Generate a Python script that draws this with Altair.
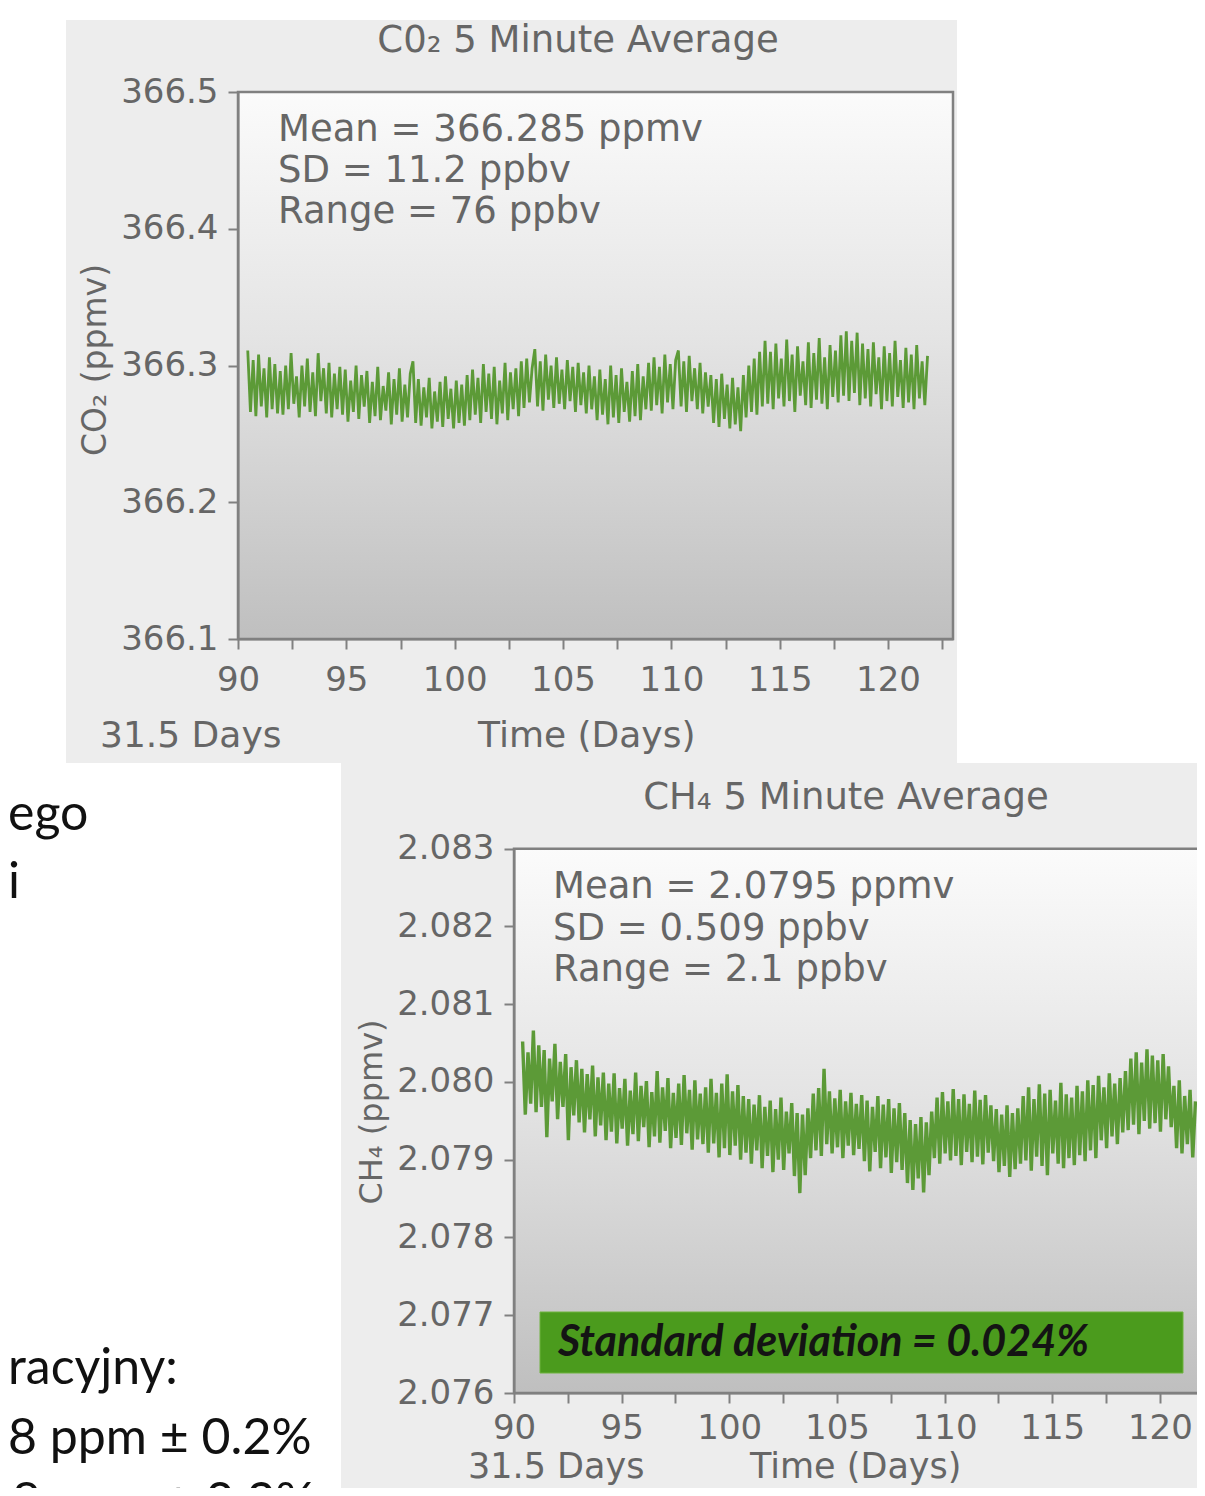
import altair as alt
import pandas as pd

# ---------------- data ----------------
X_TICKS = [90, 92.5, 95, 97.5, 100, 102.5, 105, 107.5, 110, 112.5, 115, 117.5, 120, 122.5]
CO2_TICKS = [366.1, 366.2, 366.3, 366.4, 366.5]
CH4_TICKS = [2.076, 2.077, 2.078, 2.079, 2.080, 2.081, 2.082, 2.083]

CO2_START_DAY = 90.45
CH4_START_DAY = 90.40
SAMPLE_STEP_DAYS = 0.125

CO2_PPMV = [
    366.311, 366.266, 366.304, 366.263, 366.308, 366.270, 366.298, 366.262, 366.306, 366.268,
    366.301, 366.265, 366.296, 366.264, 366.300,
    366.268, 366.309, 366.272, 366.292, 366.262, 366.300, 366.270, 366.305, 366.266, 366.295,
    366.263, 366.309, 366.274, 366.298, 366.265, 366.302, 366.262, 366.294, 366.268, 366.299,
    366.264, 366.297, 366.259, 366.289, 366.266, 366.300, 366.261, 366.293, 366.270, 366.296,
    366.258, 366.288, 366.263, 366.299, 366.260, 366.285, 366.267, 366.295, 366.257, 366.290,
    366.264, 366.298, 366.259, 366.286, 366.262, 366.294, 366.303, 366.258,
    366.290, 366.256, 366.284, 366.262, 366.291, 366.254, 366.281, 366.259, 366.288, 366.255,
    366.292, 366.261, 366.283, 366.254, 366.289, 366.258, 366.286, 366.256, 366.293,
    366.260, 366.297, 366.264, 366.291, 366.258, 366.301, 366.266, 366.294, 366.261, 366.299,
    366.257, 366.289, 366.265, 366.302, 366.260, 366.295, 366.268, 366.298, 366.263, 366.303,
    366.269, 366.305, 366.273, 366.298, 366.312, 366.270, 366.303, 366.267, 366.308, 366.275,
    366.300, 366.269, 366.306, 366.272, 366.297, 366.268, 366.304, 366.274, 366.299, 366.266,
    366.302, 366.271, 366.295, 366.265, 366.300, 366.268, 366.292,
    366.260, 366.297, 366.264, 366.290, 366.257, 366.300, 366.262, 366.293, 366.258, 366.298,
    366.266, 366.288, 366.259, 366.296, 366.263, 366.301, 366.260, 366.292, 366.268,
    366.302, 366.267, 366.306, 366.271, 366.299, 366.265, 366.308, 366.273, 366.301, 366.268,
    366.304, 366.311, 366.270, 366.303, 366.266, 366.307, 366.274, 366.298, 366.268, 366.302,
    366.265, 366.295, 366.270, 366.293,
    366.258, 366.290, 366.255, 366.294, 366.261, 366.286, 366.254, 366.291, 366.257, 366.284,
    366.252, 366.293,
    366.262, 366.300, 366.266, 366.305, 366.264, 366.310, 366.270,
    366.318, 366.272, 366.310, 366.268, 366.316, 366.276, 366.305, 366.270, 366.319, 366.274,
    366.308, 366.266, 366.314, 366.278, 366.303, 366.271, 366.317, 366.269, 366.309, 366.275,
    366.320, 366.272, 366.306, 366.268, 366.315, 366.277, 366.311,
    366.273, 366.322, 366.278, 366.325, 366.274, 366.318, 366.280, 366.324, 366.271, 366.316,
    366.276, 366.312, 366.270, 366.317, 366.279, 366.306, 366.268, 366.314, 366.274, 366.309,
    366.270, 366.318, 366.277, 366.304, 366.269, 366.313, 366.273, 366.308, 366.268, 366.315,
    366.276, 366.303, 366.271, 366.307,
]

CH4_PPMV = [
    2.08052, 2.07958, 2.08038, 2.07972, 2.08066, 2.07961, 2.08047,
    2.07968, 2.08041, 2.07929, 2.08030, 2.07975, 2.08049, 2.07952, 2.08026, 2.07968, 2.08036,
    2.07925, 2.08019, 2.07957, 2.08028,
    2.07948, 2.08017, 2.07935, 2.08010, 2.07952, 2.08021, 2.07930, 2.08006, 2.07944, 2.08012,
    2.07925, 2.07998, 2.07936, 2.08011, 2.07921, 2.07992, 2.07940, 2.08004, 2.07918, 2.07989,
    2.07933, 2.08012, 2.07924, 2.07995, 2.07942, 2.08001, 2.07916, 2.07987, 2.07930, 2.08014,
    2.07922, 2.07993, 2.07937, 2.08005, 2.07915, 2.07986, 2.07928, 2.07998, 2.07919, 2.08009,
    2.07934, 2.07990, 2.07913, 2.08002, 2.07926, 2.07985, 2.07920,
    2.07993, 2.07909, 2.08004, 2.07921, 2.07986, 2.07903, 2.07998, 2.07915, 2.08010, 2.07906,
    2.07988, 2.07918, 2.07996, 2.07900, 2.07982,
    2.07909, 2.07978, 2.07895, 2.07971, 2.07912, 2.07983, 2.07889, 2.07968, 2.07905, 2.07976,
    2.07884, 2.07965, 2.07900, 2.07980, 2.07887, 2.07962, 2.07908, 2.07973, 2.07879, 2.07960,
    2.07857, 2.07958, 2.07880, 2.07966, 2.07902,
    2.07985, 2.07912, 2.07992, 2.07905, 2.08017, 2.07920, 2.07988, 2.07908, 2.07979, 2.07916,
    2.07990, 2.07902, 2.07975, 2.07918, 2.07986, 2.07906, 2.07972, 2.07914, 2.07983,
    2.07898, 2.07976, 2.07885, 2.07968, 2.07910, 2.07982, 2.07889, 2.07971, 2.07903, 2.07978,
    2.07883, 2.07966, 2.07897, 2.07973, 2.07887, 2.07960,
    2.07870, 2.07951, 2.07861, 2.07946, 2.07876, 2.07955, 2.07858, 2.07948, 2.07880, 2.07962,
    2.07902, 2.07980, 2.07895, 2.07987, 2.07908, 2.07975, 2.07899, 2.07991, 2.07905, 2.07978,
    2.07893, 2.07984, 2.07910, 2.07972, 2.07897, 2.07989, 2.07904, 2.07977, 2.07894, 2.07983,
    2.07909, 2.07970, 2.07898,
    2.07965, 2.07884, 2.07958, 2.07892, 2.07970, 2.07878, 2.07960, 2.07888, 2.07966, 2.07895,
    2.07982, 2.07899, 2.07993, 2.07886, 2.07978, 2.07904, 2.07997, 2.07892, 2.07985, 2.07880,
    2.07990, 2.07908, 2.07976, 2.07895, 2.07999, 2.07889, 2.07984, 2.07902, 2.07980, 2.07893,
    2.07995, 2.07906, 2.07988, 2.07898, 2.08002,
    2.07912, 2.07996, 2.07902, 2.08008, 2.07925, 2.07993, 2.07915, 2.08011, 2.07930, 2.07998,
    2.07920, 2.08005, 2.07935, 2.08014,
    2.07938, 2.08030, 2.07945, 2.08038, 2.07933, 2.08025, 2.07950, 2.08042, 2.07940, 2.08034,
    2.07947, 2.08028, 2.07936, 2.08036, 2.07952, 2.08020, 2.07942,
    2.07995, 2.07915, 2.08002, 2.07908, 2.07982, 2.07920, 2.07990, 2.07903, 2.07975,
]

CO2_STATS = ["Mean = 366.285 ppmv", "SD = 11.2 ppbv", "Range = 76 ppbv"]
CH4_STATS = ["Mean = 2.0795 ppmv", "SD = 0.509 ppbv", "Range = 2.1 ppbv"]

# ---------------- layout / style ----------------
OFF = 8            # page margin: reference pixel -> chart pixel
W, H = 1189, 1480


def p(v):
    return v - OFF


CF = "DejaVu Sans"
SLIDE_FONT = "Lato"
GRAY = "#666666"
FRAME = "#808080"
PANEL = "#ededed"
LINE = "#5c9a37"
GREEN_BOX = "#4b9b1d"
INK = "#111111"

ONE = pd.DataFrame({"k": [0]})

PLOT_FILL = alt.Gradient(
    gradient="linear",
    stops=[
        alt.GradientStop(color="#fbfbfb", offset=0),
        alt.GradientStop(color="#e4e4e4", offset=0.45),
        alt.GradientStop(color="#bfbfbf", offset=1),
    ],
    x1=0, x2=0, y1=0, y2=1,
)


def rect(x0, y0, x1, y1, **kw):
    return alt.Chart(ONE).mark_rect(**kw).encode(
        x=alt.value(p(x0)), x2=alt.value(p(x1)),
        y=alt.value(p(y0)), y2=alt.value(p(y1)),
    )


def txt(s, x, y, size, font=CF, color=GRAY, align="left", baseline="alphabetic", **kw):
    return alt.Chart(ONE).mark_text(
        text=s, font=font, fontSize=size, color=color, align=align, baseline=baseline, **kw
    ).encode(x=alt.value(p(x)), y=alt.value(p(y)))


def axis(**kw):
    base = dict(
        zindex=1, grid=False, labelFont=CF, labelFontSize=34, labelColor=GRAY,
        tickColor=FRAME, tickWidth=2, tickSize=10, domainColor=FRAME, domainWidth=2,
        labelFlush=False, labelOverlap=False, title="",
    )
    base.update(kw)
    return alt.Axis(**base)


LABEL_EXPR = "datum.value % 5 == 0 ? datum.label : ''"

co2_df = pd.DataFrame({
    "day": [CO2_START_DAY + SAMPLE_STEP_DAYS * i for i in range(len(CO2_PPMV))],
    "co2": CO2_PPMV,
})
ch4_df = pd.DataFrame({
    "day": [CH4_START_DAY + SAMPLE_STEP_DAYS * i for i in range(len(CH4_PPMV))],
    "ch4": CH4_PPMV,
})

# ---- top (CO2) chart ----
T_X0, T_X1, T_Y0, T_Y1 = 238, 953, 92, 639
top_line = alt.Chart(co2_df).mark_line(color=LINE, strokeWidth=2.8, strokeJoin="miter").encode(
    x=alt.X("day:Q",
            scale=alt.Scale(domain=[90, 123], range=[p(T_X0), p(T_X1)], nice=False, zero=False),
            axis=axis(orient="bottom", offset=p(T_Y1) - H, values=X_TICKS, format="d",
                      labelExpr=LABEL_EXPR, labelPadding=14)),
    y=alt.Y("co2:Q",
            scale=alt.Scale(domain=[366.1, 366.5], range=[p(T_Y1), p(T_Y0)], nice=False, zero=False),
            axis=axis(orient="left", offset=-p(T_X0), values=CO2_TICKS, format=".1f",
                      labelPadding=10)),
)

# ---- bottom (CH4) chart ----
B_X0, B_X1, B_Y0, B_Y1 = 514, 1224.5, 848.7, 1393
bot_line = alt.Chart(ch4_df).mark_line(color=LINE, strokeWidth=3.4, strokeJoin="miter").encode(
    x=alt.X("day:Q",
            scale=alt.Scale(domain=[90, 123], range=[p(B_X0), p(B_X1)], nice=False, zero=False),
            axis=axis(orient="bottom", offset=p(B_Y1) - H, values=X_TICKS, format="d",
                      labelExpr=LABEL_EXPR, labelPadding=8)),
    y=alt.Y("ch4:Q",
            scale=alt.Scale(domain=[2.076, 2.083], range=[p(B_Y1), p(B_Y0)], nice=False, zero=False),
            axis=axis(orient="left", offset=-p(B_X0), values=CH4_TICKS, format=".3f",
                      labelPadding=10)),
)

layers = [
    # top panel
    rect(66, 20, 957, 763, fill=PANEL),
    rect(T_X0, T_Y0, T_X1, T_Y1, fill=PLOT_FILL, stroke=FRAME, strokeWidth=2.5),
    top_line,
    txt("C0\u2082  5 Minute Average", 578, 52, 37, align="center"),
    txt(CO2_STATS[0], 278, 141, 37),
    txt(CO2_STATS[1], 278, 182, 37),
    txt(CO2_STATS[2], 278, 223, 37),
    txt("CO\u2082  (ppmv)", 96, 360, 33, align="center", baseline="middle", angle=270),
    txt("31.5 Days", 100, 747, 36),
    txt("Time (Days)", 478, 747, 36),
    # bottom panel
    rect(341, 763, 1215, 1500, fill=PANEL),
    rect(B_X0, B_Y0, B_X1, B_Y1, fill=PLOT_FILL, stroke=FRAME, strokeWidth=2.5),
    rect(540, 1312, 1183, 1373, fill=GREEN_BOX, stroke="#6fb33f", strokeWidth=1),
    bot_line,
    txt("CH\u2084  5 Minute Average", 846, 809, 37, align="center"),
    txt(CH4_STATS[0], 553, 898, 37),
    txt(CH4_STATS[1], 553, 940, 37),
    txt(CH4_STATS[2], 553, 981, 37),
    txt("CH\u2084  (ppmv)", 372, 1112, 32, align="center", baseline="middle", angle=270),
    txt("31.5 Days", 468, 1478, 35),
    txt("Time (Days)", 750, 1478, 35),
    txt("Standard deviation = 0.024%", 558, 1356, 43, font=SLIDE_FONT, color="#141414",
        fontStyle="italic", fontWeight="bold"),
    # slide text peeking out on the left
    txt("ego", 8, 830, 50, font=SLIDE_FONT, color=INK),
    txt("i", 8, 898, 50, font=SLIDE_FONT, color=INK),
    txt("racyjny:", 8, 1384, 50, font=SLIDE_FONT, color=INK),
    txt("8 ppm \u00b1 0.2%", 8, 1454, 50, font=SLIDE_FONT, color=INK),
    txt("8 ppm \u00b1 0.2%", 12, 1518, 50, font=SLIDE_FONT, color=INK),
]

chart = (
    alt.layer(*layers)
    .resolve_scale(x="independent", y="independent")
    .properties(width=W, height=H, padding=0,
                autosize=alt.AutoSizeParams(type="none"), background="white")
    .configure_view(strokeWidth=0)
)

chart.save("out.html", embed_options={"renderer": "svg", "actions": False})
